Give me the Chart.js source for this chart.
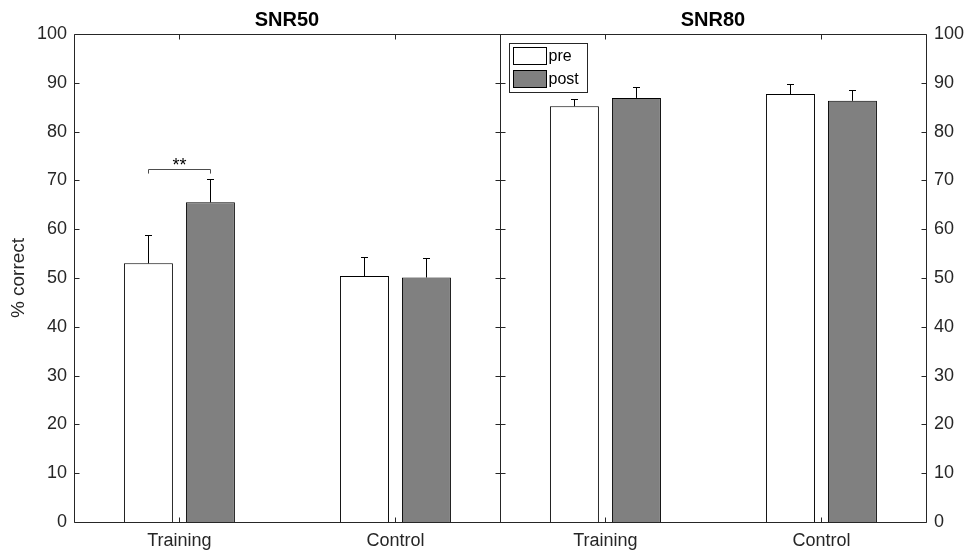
<!DOCTYPE html>
<html>
<head>
<meta charset="utf-8">
<script src="https://cdn.jsdelivr.net/npm/chart.js@4.4.1/dist/chart.umd.min.js"></script>
<style>
  html, body { margin: 0; padding: 0; background: #ffffff; }
  #wrap { position: relative; width: 969px; height: 553px; }
  #wrap canvas { position: absolute; left: 0; top: 0; }
</style>
</head>
<body>
<div id="wrap">
  <canvas id="snr50" width="969" height="553"></canvas>
  <canvas id="snr80" width="969" height="553"></canvas>
</div>
<script>
// Groups along the x axis
const categories = ['Training', 'Control'];
// x limits in group units (group 1 at 1, group 2 at 2)
const xLim = [0.512, 2.484];
// y axis ticks (% correct)
const yTicks = [0, 10, 20, 30, 40, 50, 60, 70, 80, 90, 100];

// SNR50: means and upper error (SEM)
const snr50Pre      = [53.0, 50.4];
const snr50PreErr   = [5.9, 3.9];
const snr50Post     = [65.5, 50.1];
const snr50PostErr  = [4.8, 3.9];

// SNR80: means and upper error (SEM)
const snr80Pre      = [85.2, 87.7];
const snr80PreErr   = [1.5, 2.0];
const snr80Post     = [86.9, 86.3];
const snr80PostErr  = [2.3, 2.3];

// Significance marker between Training pre and post at SNR50
const sigLevel = [72.4];
const sigLabel = ['**'];

const FONT = "'Liberation Sans', Arial, Helvetica, sans-serif";
const AXIS = '#262626';
const W = 969, H = 553;
const X_LEFT = 74, X_MID = 500, X_RIGHT = 926;
const PLOT_BOTTOM_H = 31;

// Box, inward tick marks
const framePlugin = {
  id: 'frame',
  afterDatasetsDraw(chart) {
    const { ctx, chartArea: a, scales } = chart;
    const ys = scales.y, xs = scales.x;
    const tl = 5;
    ctx.save();
    ctx.strokeStyle = AXIS;
    ctx.lineWidth = 1;
    const L = Math.round(a.left) + 0.5, R = Math.round(a.right) + 0.5;
    const T = Math.round(a.top) + 0.5, B = Math.round(a.bottom) + 0.5;
    ctx.beginPath();
    ctx.rect(L, T, R - L, B - T);
    ctx.stroke();
    ctx.beginPath();
    yTicks.forEach(v => {
      const y = Math.round(ys.getPixelForValue(v)) + 0.5;
      ctx.moveTo(L, y); ctx.lineTo(L + tl, y);
      ctx.moveTo(R, y); ctx.lineTo(R - tl, y);
    });
    categories.forEach((c, i) => {
      const x = Math.round(xs.getPixelForValue(i)) + 0.5;
      ctx.moveTo(x, B); ctx.lineTo(x, B - tl);
      ctx.moveTo(x, T); ctx.lineTo(x, T + tl);
    });
    ctx.stroke();
    ctx.restore();
  }
};

// Upward error bars with caps
const errorPlugin = {
  id: 'errorBars',
  afterDatasetsDraw(chart) {
    const { ctx, scales } = chart;
    ctx.save();
    ctx.strokeStyle = '#000000';
    ctx.lineWidth = 1;
    chart.data.datasets.forEach((ds, di) => {
      const meta = chart.getDatasetMeta(di);
      meta.data.forEach((bar, j) => {
        const top = scales.y.getPixelForValue(ds.data[j] + ds.errors[j]);
        const base = scales.y.getPixelForValue(ds.data[j]);
        const x = Math.round(bar.x) + 0.5;
        const yt = Math.round(top) + 0.5;
        ctx.beginPath();
        ctx.moveTo(x, base);
        ctx.lineTo(x, yt);
        ctx.moveTo(x - 3.5, yt);
        ctx.lineTo(x + 3.5, yt);
        ctx.stroke();
      });
    });
    ctx.restore();
  }
};

// Bracket with significance stars
const bracketPlugin = {
  id: 'sigBracket',
  afterDatasetsDraw(chart, args, opts) {
    if (!opts || !opts.show) return;
    const { ctx, scales } = chart;
    const x1 = chart.getDatasetMeta(0).data[0].x;
    const x2 = chart.getDatasetMeta(1).data[0].x;
    const y = Math.round(scales.y.getPixelForValue(opts.level)) + 0.5;
    const yl = scales.y.getPixelForValue(opts.level - 1);
    ctx.save();
    ctx.strokeStyle = '#4d4d4d';
    ctx.lineWidth = 1;
    ctx.beginPath();
    ctx.moveTo(Math.round(x1) + 0.5, yl);
    ctx.lineTo(Math.round(x1) + 0.5, y);
    ctx.lineTo(Math.round(x2) + 0.5, y);
    ctx.lineTo(Math.round(x2) + 0.5, yl);
    ctx.stroke();
    ctx.fillStyle = '#000000';
    ctx.font = '18px ' + FONT;
    ctx.textAlign = 'center';
    ctx.textBaseline = 'alphabetic';
    ctx.fillText(opts.text, (x1 + x2) / 2, y + 1);
    ctx.restore();
  }
};

// Boxed legend drawn inside the plot area
const boxLegendPlugin = {
  id: 'boxLegend',
  afterDraw(chart, args, opts) {
    if (!opts || !opts.show) return;
    const { ctx, chartArea: a } = chart;
    const x0 = Math.round(a.left) + 9.5, y0 = Math.round(a.top) + 9.5;
    const w = 78, h = 49;
    ctx.save();
    ctx.fillStyle = '#ffffff';
    ctx.fillRect(x0, y0, w, h);
    ctx.strokeStyle = AXIS;
    ctx.lineWidth = 1;
    ctx.strokeRect(x0, y0, w, h);
    ctx.font = '16px ' + FONT;
    ctx.textBaseline = 'middle';
    ctx.textAlign = 'left';
    chart.data.datasets.forEach((ds, i) => {
      const sy = y0 + 4 + i * 23;
      ctx.fillStyle = ds.backgroundColor;
      ctx.fillRect(x0 + 4, sy, 33, 17);
      ctx.strokeStyle = '#000000';
      ctx.strokeRect(x0 + 4, sy, 33, 17);
      ctx.fillStyle = '#000000';
      ctx.fillText(ds.label, x0 + 39, sy + 9);
    });
    ctx.restore();
  }
};

function makeDatasets(pre, preErr, post, postErr) {
  const common = {
    borderColor: '#000000',
    borderWidth: 1,
    categoryPercentage: 0.574,
    barPercentage: 0.79
  };
  return [
    Object.assign({ label: 'pre', data: pre, errors: preErr, backgroundColor: '#ffffff' }, common),
    Object.assign({ label: 'post', data: post, errors: postErr, backgroundColor: '#808080' }, common)
  ];
}

function makeOptions(side, title) {
  const left = side === 'left';
  return {
    responsive: false,
    animation: false,
    devicePixelRatio: 1,
    events: [],
    layout: {
      padding: left ? { left: 0, right: W - X_MID, top: 0, bottom: 0 }
                    : { left: X_MID, right: 0, top: 0, bottom: 0 }
    },
    scales: {
      x: {
        type: 'category',
        offset: true,
        grid: { display: false, drawTicks: false },
        border: { display: false },
        ticks: { color: AXIS, font: { family: FONT, size: 18 }, padding: 8 },
        // apply the x limits to the category scale's value range
        afterBuildTicks(s) {
          s._startValue = xLim[0] - 1;
          s._valueRange = xLim[1] - xLim[0];
        },
        afterFit(s) { s.height = PLOT_BOTTOM_H; }
      },
      y: {
        position: left ? 'left' : 'right',
        min: 0, max: 100,
        afterBuildTicks(s) { s.ticks = yTicks.map(v => ({ value: v })); },
        grid: { display: false, drawTicks: false },
        border: { display: false },
        ticks: { color: AXIS, font: { family: FONT, size: 18 }, padding: left ? 7 : 8 },
        title: left ? { display: true, text: '% correct', color: AXIS,
                        font: { family: FONT, size: 19 }, padding: { top: 7, bottom: 0 } }
                    : { display: false },
        afterFit(s) { s.width = left ? X_LEFT : W - X_RIGHT; }
      }
    },
    plugins: {
      legend: { display: false },
      tooltip: { enabled: false },
      title: {
        display: true, text: title, fullSize: false, color: '#000000',
        font: { family: FONT, size: 20, weight: 'bold', lineHeight: 1.2 },
        padding: { top: 8, bottom: 2 }
      },
      sigBracket: left ? { show: true, level: sigLevel[0], text: sigLabel[0] } : { show: false },
      boxLegend: { show: !left }
    }
  };
}

const plugins = [errorPlugin, framePlugin, bracketPlugin, boxLegendPlugin];

new Chart(document.getElementById('snr50'), {
  type: 'bar',
  data: { labels: categories, datasets: makeDatasets(snr50Pre, snr50PreErr, snr50Post, snr50PostErr) },
  options: makeOptions('left', 'SNR50'),
  plugins
});

new Chart(document.getElementById('snr80'), {
  type: 'bar',
  data: { labels: categories, datasets: makeDatasets(snr80Pre, snr80PreErr, snr80Post, snr80PostErr) },
  options: makeOptions('right', 'SNR80'),
  plugins
});
</script>
</body>
</html>
